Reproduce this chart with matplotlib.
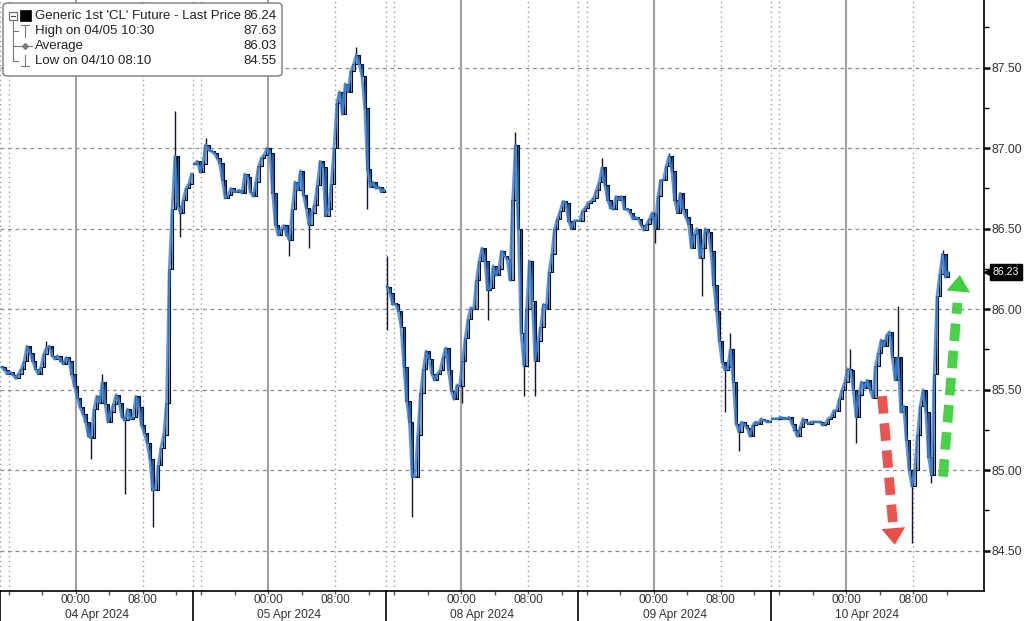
import matplotlib
matplotlib.use("Agg")
import matplotlib.pyplot as plt
import matplotlib.transforms as mtransforms
from matplotlib.lines import Line2D
from matplotlib.patches import Rectangle, FancyBboxPatch

# ---------------- data ----------------
dates = ["04 Apr 2024", "05 Apr 2024", "08 Apr 2024", "09 Apr 2024", "10 Apr 2024"]
time_labels = ["00:00", "08:00"]

# 20-minute closes for each trading session
close_0404 = [85.64, 85.62, 85.60, 85.61, 85.59, 85.57, 85.60, 85.63, 85.68, 85.77,
              85.73, 85.68, 85.63, 85.60, 85.64, 85.72, 85.76, 85.77, 85.71, 85.69,
              85.71, 85.68, 85.66, 85.70, 85.68, 85.60, 85.52, 85.45, 85.39, 85.35,
              85.30, 85.21, 85.20, 85.38, 85.46, 85.42, 85.55, 85.41, 85.30, 85.36,
              85.41, 85.47, 85.42, 85.33, 85.31, 85.38, 85.32, 85.33, 85.46, 85.39,
              85.28, 85.23, 85.17, 85.07, 84.88, 84.88, 85.03, 85.14, 85.22, 85.42,
              86.25, 86.62, 86.95, 86.64, 86.60, 86.68, 86.75, 86.78, 86.84]
close_0405 = [86.90, 86.92, 86.85, 86.90, 87.02, 86.99, 86.98, 86.97, 86.94, 86.91,
              86.80, 86.69, 86.71, 86.75, 86.73, 86.73, 86.74, 86.72, 86.84, 86.82,
              86.73, 86.70, 86.79, 86.89, 86.94, 86.96, 87.00, 86.97, 86.72, 86.52,
              86.46, 86.50, 86.52, 86.46, 86.43, 86.62, 86.79, 86.74, 86.86, 86.71,
              86.63, 86.52, 86.60, 86.65, 86.77, 86.92, 86.88, 86.58, 86.62, 86.78,
              87.00, 87.28, 87.35, 87.21, 87.40, 87.35, 87.48, 87.52, 87.58, 87.52,
              87.45, 87.25, 86.87, 86.76, 86.79, 86.75, 86.76, 86.73, 86.74]
close_0408 = [86.14, 86.10, 86.03, 86.03, 85.99, 85.89, 85.64, 85.43, 85.30, 84.96,
              84.96, 85.22, 85.48, 85.63, 85.74, 85.69, 85.60, 85.56, 85.60, 85.62,
              85.70, 85.76, 85.62, 85.49, 85.44, 85.53, 85.52, 85.68, 85.82, 85.94,
              86.01, 86.00, 86.18, 86.30, 86.38, 86.30, 86.12, 86.13, 86.27, 86.21,
              86.25, 86.36, 86.33, 86.31, 86.18, 86.68, 87.02, 86.50, 85.85, 85.65,
              86.00, 86.30, 86.05, 85.68, 85.80, 85.89, 86.03, 86.00, 86.23, 86.34,
              86.50, 86.56, 86.61, 86.67, 86.66, 86.55, 86.50, 86.55, 86.55]
close_0409 = [86.55, 86.61, 86.63, 86.66, 86.67, 86.69, 86.74, 86.79, 86.88, 86.77,
              86.68, 86.63, 86.62, 86.70, 86.68, 86.70, 86.62, 86.62, 86.60, 86.56,
              86.57, 86.56, 86.52, 86.49, 86.53, 86.56, 86.60, 86.50, 86.70, 86.80,
              86.80, 86.89, 86.95, 86.86, 86.68, 86.60, 86.72, 86.62, 86.57, 86.53,
              86.38, 86.47, 86.50, 86.32, 86.38, 86.50, 86.48, 86.36, 86.15, 85.99,
              85.80, 85.67, 85.62, 85.64, 85.75, 85.55, 85.29, 85.24, 85.30, 85.28,
              85.26, 85.21, 85.28, 85.30, 85.29, 85.32, 85.31, 85.30, 85.30]
close_0410 = [85.32, 85.32, 85.32, 85.33, 85.32, 85.32, 85.33, 85.29, 85.25, 85.21,
              85.27, 85.32, 85.30, 85.29, 85.30, 85.30, 85.30, 85.30, 85.28, 85.29,
              85.32, 85.33, 85.37, 85.37, 85.44, 85.50, 85.55, 85.63, 85.62, 85.50,
              85.33, 85.47, 85.55, 85.51, 85.56, 85.50, 85.45, 85.65, 85.73, 85.81,
              85.77, 85.84, 85.86, 85.70, 85.56, 85.70, 85.36, 85.40, 85.19, 85.00,
              84.90, 85.00, 85.22, 85.40, 85.50, 85.36, 85.08, 84.97, 85.60, 86.08,
              86.22, 86.34, 86.20, 86.23]
sessions = [close_0404, close_0405, close_0408, close_0409, close_0410]

# wick extremes (session index, bar index, price)
wick_session = [0, 0, 0, 0, 0, 0, 0,
                1, 1, 1, 1, 1,
                2, 2, 2, 2, 2, 2, 2, 2,
                3, 3, 3, 3, 3, 3, 3,
                4, 4, 4, 4, 4, 4]
wick_bar = [32, 44, 54, 62, 64, 36, 16,
            4, 34, 41, 58, 62,
            0, 0, 9, 27, 36, 46, 49, 53,
            8, 27, 32, 44, 52, 54, 57,
            30, 28, 45, 50, 57, 61]
wick_price = [85.07, 84.85, 84.65, 87.23, 86.45, 85.60, 85.80,
              87.06, 86.33, 86.38, 87.63, 86.62,
              86.33, 85.87, 84.71, 85.42, 85.93, 87.10, 85.46, 85.46,
              86.94, 86.41, 86.97, 86.08, 85.36, 85.85, 85.12,
              85.17, 85.75, 86.02, 84.55, 84.92, 86.37]

legend_labels = ["Generic 1st 'CL' Future - Last Price", "High on 04/05 10:30",
                 "Average", "Low on 04/10 08:10"]
legend_values = [86.24, 87.63, 86.03, 84.55]
last_tag = 86.23
y_ticks = [84.5, 85.0, 85.5, 86.0, 86.5, 87.0, 87.5]

# session geometry (hours); session opens 9h before midnight
SESSION_H = 23.0
BAR_H = 1.0 / 3.0
MIDNIGHT_OFF = 9.0

# ---------------- figure ----------------
W, H = 1024, 621
fig = plt.figure(figsize=(W / 100, H / 100), dpi=100)
ax = fig.add_axes([0, 30 / H, 984 / W, 591 / H])
ax.set_xlim(-0.05, 117.45)
ax.set_ylim(84.25, 87.92)

font = "Liberation Sans"

# grid
for v in y_ticks:
    ax.axhline(v, color="#8a8a8a", lw=0.9, ls=(0, (3, 3)), zorder=1)
for d in range(len(dates)):
    base = SESSION_H * d
    ax.axvline(base + MIDNIGHT_OFF, color="#a0a0a0", lw=1.5, zorder=1)
    for h in (0, 1, 17):
        ax.axvline(base + h, color="#9a9a9a", lw=1.0, ls=(0, (1, 2.5)), zorder=1)

# price data
up_face, dn_face = "#9aa4b0", "#2a5caa"
for d, closes in enumerate(sessions):
    base = SESSION_H * d
    xs = [base + k * BAR_H + BAR_H / 2 for k in range(len(closes))]
    extra = {}
    for s, b, p in zip(wick_session, wick_bar, wick_price):
        if s == d:
            extra.setdefault(b, []).append(p)
    for k, c in enumerate(closes):
        o = closes[k - 1] if k > 0 else c
        vals = [o, c] + extra.get(k, [])
        hi, lo = max(vals), min(vals)
        ax.vlines(xs[k], lo, hi, color="#101826", lw=1.0, zorder=3)
        bot, top = min(o, c), max(o, c)
        ax.add_patch(Rectangle((xs[k] - 0.14, bot), 0.28, max(top - bot, 0.006),
                               fc=up_face if c >= o else dn_face, ec="#0c0c0c",
                               lw=0.8, zorder=4))
    ax.plot(xs, closes, color="#3f85dc", lw=2.0, zorder=5, alpha=0.85,
            solid_joinstyle="round")

# arrows (annotation)
def dashed_arrow(x0, y0, x1, y1, color):
    fx = x0 + (x1 - x0) * 0.85
    fy = y0 + (y1 - y0) * 0.85
    ax.plot([x0, fx], [y0, fy], color=color, lw=7, dashes=(1.8, 1.0),
            solid_capstyle="butt", dash_capstyle="butt", zorder=6, alpha=0.9)
    ax.annotate("", xy=(x1, y1), xytext=(fx, fy),
                arrowprops=dict(arrowstyle="-|>,head_width=0.85,head_length=1.2",
                                color=color, lw=0, alpha=0.95), zorder=6)

dashed_arrow(105.27, 85.46, 106.82, 84.52, "#e8443c")
dashed_arrow(112.55, 84.96, 114.58, 86.23, "#36cc36")

# axes styling
for s in ("top", "left"):
    ax.spines[s].set_visible(False)
ax.spines["right"].set_color("black")
ax.spines["right"].set_linewidth(1.2)
ax.spines["bottom"].set_color("black")
ax.spines["bottom"].set_linewidth(1.2)

ax.yaxis.tick_right()
ax.set_yticks(y_ticks)
ax.set_yticklabels([f"{v:.2f}" for v in y_ticks])
ax.set_yticks([v + 0.25 for v in y_ticks], minor=True)
ax.tick_params(axis="y", which="major", length=4.5, width=1.8, pad=1,
               labelsize=8.8, labelcolor="#333333", color="black")
ax.tick_params(axis="y", which="minor", length=3.5, width=1.0, color="black")
for lab in ax.get_yticklabels():
    lab.set_fontfamily(font)

xt, xl = [], []
for d in range(len(dates)):
    base = SESSION_H * d
    xt += [base + MIDNIGHT_OFF, base + MIDNIGHT_OFF + 8]
    xl += time_labels
ax.set_xticks(xt)
ax.set_xticklabels(xl)
ax.set_xticks([SESSION_H * d + h for d in range(len(dates)) for h in (1, 5, 9, 13, 17, 21)],
              minor=True)
ax.tick_params(axis="x", which="major", length=2, width=1.0, pad=0,
               labelsize=8.6, labelcolor="#333333", color="#555555")
ax.tick_params(axis="x", which="minor", length=3, width=1.0, color="#555555")
for lab in ax.get_xticklabels():
    lab.set_fontfamily(font)

blend = mtransforms.blended_transform_factory(ax.transData, ax.transAxes)
for d, lab in enumerate(dates):
    base = SESSION_H * d
    ax.text(base + SESSION_H / 2, -29.6 / 591, lab, transform=blend, ha="center",
            va="bottom", fontsize=8.6, color="#333333", family=font)
    ax.add_line(Line2D([base, base], [0, -30 / 591], transform=blend, color="black",
                       lw=1.2, clip_on=False))

# last price tag
blend_y = mtransforms.blended_transform_factory(ax.transAxes, ax.transData)
ax.plot([1 + 6 / 984], [last_tag], marker="<", ms=9, color="black",
        transform=blend_y, clip_on=False, zorder=10)
ax.text(1 + 9 / 984, last_tag, f"{last_tag:.2f}", transform=blend_y, color="white",
        fontsize=7.6, va="center", ha="left", family=font, clip_on=False, zorder=11,
        bbox=dict(boxstyle="square,pad=0.28", fc="black", ec="black"))

# ---------------- legend box ----------------
def fl(xs, ys, **kw):
    fig.add_artist(Line2D([x / W for x in xs], [1 - y / H for y in ys],
                          transform=fig.transFigure, **kw))

box = FancyBboxPatch((3 / W, 1 - 76 / H), 279 / W, 73 / H,
                     boxstyle="round,pad=0,rounding_size=0.005",
                     transform=fig.transFigure, fc="white", ec="#7a7a7a", lw=1.0,
                     zorder=20)
fig.add_artist(box)
rows = [16, 31, 46, 61]
for y, lab, val in zip(rows, legend_labels, legend_values):
    fig.text(35 / W, 1 - y / H, lab, fontsize=9.5, family=font, color="#222222",
             va="center", ha="left", zorder=21)
    fig.text(276 / W, 1 - y / H, f"{val:.2f}", fontsize=9.5, family=font,
             color="#222222", va="center", ha="right", zorder=21)
grey = dict(color="#7a7a7a", lw=0.8, zorder=21)
fl([13, 13], [20, 61], **grey)
for y in rows[1:]:
    fl([13, 18], [y, y], **grey)
fig.add_artist(Rectangle((9 / W, 1 - 20 / H), 8 / W, 8 / H, transform=fig.transFigure,
                         fc="white", ec="#666666", lw=0.8, zorder=22))
fl([11, 15], [16, 16], color="#444444", lw=0.8, zorder=23)
fig.add_artist(Rectangle((20 / W, 1 - 21 / H), 11 / W, 11 / H, transform=fig.transFigure,
                         fc="black", ec="black", lw=0.5, zorder=22))
fl([21, 29], [25, 25], **grey)
fl([25, 25], [25, 37], **grey)
fl([19, 32], [46, 46], **grey)
fig.add_artist(Line2D([25 / W], [1 - 46 / H], marker="D", ms=3, color="#7a7a7a",
                      transform=fig.transFigure, zorder=22))
fl([25, 25], [55, 66], **grey)
fl([21, 29], [66, 66], **grey)

fig.savefig("out.png", dpi=100, facecolor="white")
